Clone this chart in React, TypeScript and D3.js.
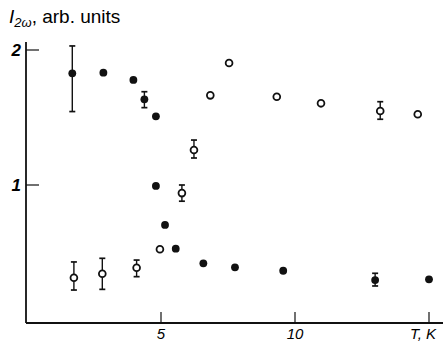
import React, { useEffect, useRef } from "react";
import * as d3 from "d3";

// filled circles
const filledT = [1.69, 2.85, 3.97, 4.38, 4.81, 4.81, 5.15, 5.55, 6.58, 7.76, 9.56, 12.99, 15.0];
const filledI = [1.827, 1.832, 1.778, 1.635, 1.509, 0.993, 0.704, 0.528, 0.42, 0.39, 0.365, 0.296, 0.301];
const filledLo = [1.544, null, null, 1.573, null, null, null, null, null, null, null, 0.252, null];
const filledHi = [2.03, null, null, 1.691, null, null, null, null, null, null, null, 0.346, null];

// open circles
const openT = [1.75, 2.81, 4.09, 4.96, 5.78, 6.23, 6.84, 7.54, 9.32, 10.97, 13.18, 14.58];
const openI = [0.313, 0.343, 0.387, 0.524, 0.94, 1.259, 1.664, 1.904, 1.654, 1.605, 1.548, 1.524];
const openLo = [0.222, 0.227, 0.321, null, 0.88, 1.2, null, null, null, null, 1.487, null];
const openHi = [0.43, 0.457, 0.444, null, 1.0, 1.333, null, null, null, null, 1.617, null];

const xTicks = [5, 10, 15];
const xTickLabels = ["5", "10", "T, K"];
const yTicks = [1, 2];
const yTickLabels = ["1", "2"];

const W = 443, H = 344;
const labelFont = "'Liberation Sans', Arial, sans-serif";

export default function App() {
  const ref = useRef<SVGSVGElement>(null);

  useEffect(() => {
    const svg = d3.select(ref.current);
    svg.selectAll("*").remove();

    const x = d3.scaleLinear().domain([0, 15]).range([27, 429]);
    const y = d3.scaleLinear().domain([0, 2]).range([320, 50]);
    const x0 = 26, yBase = 323;

    const g = svg.append("g");

    // axes
    g.append("line").attr("x1", x0).attr("x2", W).attr("y1", yBase).attr("y2", yBase)
      .attr("stroke", "#111").attr("stroke-width", 1.8);
    g.append("line").attr("x1", x0).attr("x2", x0).attr("y1", 42).attr("y2", yBase)
      .attr("stroke", "#111").attr("stroke-width", 1.8);

    // x ticks
    g.selectAll(".xt").data(xTicks).join("line").attr("class", "xt")
      .attr("x1", d => x(d)).attr("x2", d => x(d))
      .attr("y1", yBase).attr("y2", yBase - 11)
      .attr("stroke", "#111").attr("stroke-width", 1.2);
    g.selectAll(".xl").data(xTicks).join("text").attr("class", "xl")
      .attr("x", d => (d === 15 ? x(d) - 6 : x(d))).attr("y", 339)
      .attr("text-anchor", "middle")
      .style("font-family", labelFont)
      .style("font-style", "italic").style("font-size", "15px")
      .text((d, i) => xTickLabels[i]);

    // y ticks
    g.selectAll(".yt").data(yTicks).join("line").attr("class", "yt")
      .attr("x1", x0).attr("x2", x0 + 13)
      .attr("y1", d => y(d)).attr("y2", d => y(d))
      .attr("stroke", "#111").attr("stroke-width", 1.2);
    g.selectAll(".yl").data(yTicks).join("text").attr("class", "yl")
      .attr("x", 21).attr("y", d => y(d) + 6)
      .attr("text-anchor", "end")
      .style("font-family", labelFont)
      .style("font-style", "italic").style("font-weight", "bold").style("font-size", "17px")
      .text((d, i) => yTickLabels[i]);

    // title
    const title = g.append("text").attr("x", 9).attr("y", 23)
      .style("font-family", "'Liberation Sans', Arial, sans-serif").style("font-size", "19px");
    title.append("tspan").style("font-style", "italic").text("I");
    title.append("tspan").style("font-style", "italic").style("font-size", "13px").attr("dy", 4).text("2ω");
    title.append("tspan").attr("dy", -4).text(", arb. units");

    const drawErr = (ts, lo, hi) => {
      const rows = ts.map((t, i) => ({ t, lo: lo[i], hi: hi[i] })).filter(d => d.lo != null);
      const eg = g.append("g").attr("stroke", "#111");
      eg.selectAll(".ev").data(rows).join("line").attr("class", "ev")
        .attr("x1", d => x(d.t)).attr("x2", d => x(d.t))
        .attr("y1", d => y(d.lo)).attr("y2", d => y(d.hi)).attr("stroke-width", 1.4);
      eg.selectAll(".eh").data(rows).join("line").attr("class", "eh")
        .attr("x1", d => x(d.t) - 3).attr("x2", d => x(d.t) + 3)
        .attr("y1", d => y(d.hi)).attr("y2", d => y(d.hi)).attr("stroke-width", 1.7);
      eg.selectAll(".el").data(rows).join("line").attr("class", "el")
        .attr("x1", d => x(d.t) - 3).attr("x2", d => x(d.t) + 3)
        .attr("y1", d => y(d.lo)).attr("y2", d => y(d.lo)).attr("stroke-width", 1.7);
    };
    drawErr(filledT, filledLo, filledHi);
    drawErr(openT, openLo, openHi);

    // points
    g.selectAll(".pf").data(filledT).join("circle").attr("class", "pf")
      .attr("cx", d => x(d)).attr("cy", (d, i) => y(filledI[i]))
      .attr("r", 3.9).attr("fill", "#111");
    g.selectAll(".po").data(openT).join("circle").attr("class", "po")
      .attr("cx", d => x(d)).attr("cy", (d, i) => y(openI[i]))
      .attr("r", 3.4).attr("fill", "#fff").attr("stroke", "#111").attr("stroke-width", 1.8);
  }, []);

  return (
    <svg ref={ref} width={W} height={H}
      style={{ position: "absolute", left: 0, top: 0, background: "#fff" }} />
  );
}
